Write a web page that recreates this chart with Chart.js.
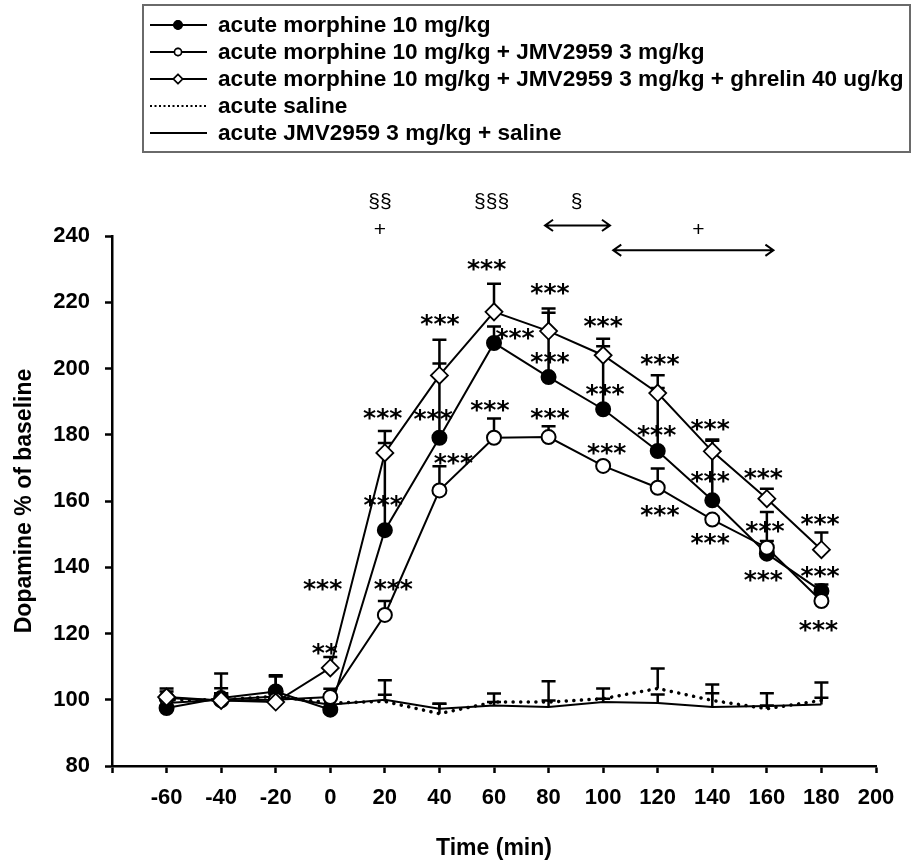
<!DOCTYPE html>
<html>
<head>
<meta charset="utf-8">
<script src="https://cdn.jsdelivr.net/npm/chart.js@4.4.1/dist/chart.umd.min.js"></script>
<style>
  html, body { margin: 0; padding: 0; background: #fff; }
</style>
</head>
<body>
<canvas id="dopamineChart" width="912" height="863"></canvas>
<script>
const FONT = '"Liberation Sans", Arial, Helvetica, sans-serif';

// sampling times (min) and tick values
const times = [-60, -40, -20, 0, 20, 40, 60, 80, 100, 120, 140, 160, 180];
const xTicks = [-80, -60, -40, -20, 0, 20, 40, 60, 80, 100, 120, 140, 160, 180, 200];
const yTicks = [80, 100, 120, 140, 160, 180, 200, 220, 240];

// mean dopamine (% of baseline) and SEM per group
const morphine = [97.5, 100.5, 102.5, 97.0, 151.2, 179.1, 207.7, 197.4, 187.7, 175.1, 160.2, 144.1, 132.8];
const morphineSem = [3.0, 3.0, 4.5, 4.5, 26.3, 22.4, 5.0, 20.7, 19.0, 19.0, 18.0, 12.6, 2.0];

const morphineJmv = [100.5, 99.8, 100.0, 100.8, 125.6, 163.2, 179.1, 179.3, 170.6, 164.0, 154.4, 145.9, 129.8];
const morphineJmvSem = [2.0, 2.0, 3.0, 2.5, 4.2, 7.3, 5.8, 3.3, 1.0, 5.8, 1.0, 2.0, 1.0];

const morphineJmvGhrelin = [100.8, 99.8, 99.3, 109.6, 174.5, 197.9, 217.1, 211.3, 204.0, 192.6, 175.0, 160.7, 145.3];
const morphineJmvGhrelinSem = [2.6, 8.1, 8.1, 3.3, 6.6, 10.8, 8.5, 5.5, 5.0, 5.4, 3.6, 3.0, 5.2];

const saline = [100.0, 100.0, 101.0, 99.0, 99.5, 95.8, 99.3, 99.3, 100.3, 103.4, 99.8, 97.3, 99.8];
const salineSem = [1.0, 2.0, 2.0, 2.0, 2.0, 3.0, 2.6, 6.3, 3.1, 6.0, 4.8, 1.0, 5.4];

const jmvSaline = [99.0, 100.0, 101.0, 98.5, 100.0, 97.3, 98.3, 97.8, 99.3, 99.0, 97.8, 98.1, 98.6];
const jmvSalineSem = [2.0, 2.0, 2.0, 2.0, 5.9, 1.5, 1.0, 2.0, 1.0, 2.6, 4.2, 3.9, 2.0];

// significance marks: [time, % baseline, text]
const starLabels = [
  [57.3, 231.9, '***'], [40.2, 215.4, '***'], [19.2, 186.9, '***'], [37.7, 186.6, '***'],
  [58.5, 189.4, '***'], [45.1, 173.3, '***'], [19.4, 160.7, '***'], [-2.8, 135.2, '***'],
  [23.1, 135.2, '***'], [-2.0, 115.9, '**'], [80.5, 224.6, '***'], [67.7, 211.0, '***'],
  [80.5, 204.0, '***'], [100.0, 214.6, '***'], [80.5, 186.9, '***'], [100.7, 194.2, '***'],
  [120.8, 203.3, '***'], [101.3, 176.5, '***'], [119.6, 181.9, '***'], [139.2, 183.6, '***'],
  [120.8, 157.7, '***'], [139.2, 168.0, '***'], [158.7, 168.8, '***'], [139.2, 149.3, '***'],
  [159.3, 152.7, '***'], [158.7, 138.1, '***'], [179.5, 154.9, '***'], [179.5, 139.1, '***'],
  [178.9, 122.8, '***']
];
const groupLabels = [
  [18.2, 250.3, '§§'], [18.2, 241.7, '+'], [59.1, 250.3, '§§§'], [90.3, 250.3, '§'], [134.9, 241.7, '+']
];
// double arrows: [from time, to time, % baseline]
const rangeArrows = [[78.7, 102.5, 243.2], [103.7, 162.4, 235.7]];

const toPoints = values => values.map((v, i) => ({ x: times[i], y: v }));

// "order": lower numbers are painted on top
const datasets = [
  {
    label: 'acute morphine 10 mg/kg',
    data: toPoints(morphine), sem: morphineSem, order: 3,
    borderColor: '#000', borderWidth: 2,
    pointStyle: 'circle', pointRadius: 7, pointBackgroundColor: '#000', pointBorderColor: '#000', pointBorderWidth: 2,
    legendRadius: 4
  },
  {
    label: 'acute morphine 10 mg/kg + JMV2959 3 mg/kg',
    data: toPoints(morphineJmv), sem: morphineJmvSem, order: 2,
    borderColor: '#000', borderWidth: 2,
    pointStyle: 'circle', pointRadius: 7, pointBackgroundColor: '#fff', pointBorderColor: '#000', pointBorderWidth: 2,
    legendRadius: 3.5
  },
  {
    label: 'acute morphine 10 mg/kg + JMV2959 3 mg/kg + ghrelin 40 ug/kg',
    data: toPoints(morphineJmvGhrelin), sem: morphineJmvGhrelinSem, order: 1,
    borderColor: '#000', borderWidth: 2,
    pointStyle: 'rectRot', pointRadius: 8.5, pointBackgroundColor: '#fff', pointBorderColor: '#000', pointBorderWidth: 1.8,
    legendRadius: 4.5
  },
  {
    label: 'acute saline',
    data: toPoints(saline), sem: salineSem, order: 4,
    borderColor: '#000', borderWidth: 3.5, borderDash: [0.1, 7.5], borderCapStyle: 'round',
    pointRadius: 0, legendDash: [2, 2.5]
  },
  {
    label: 'acute JMV2959 3 mg/kg + saline',
    data: toPoints(jmvSaline), sem: jmvSalineSem, order: 5,
    borderColor: '#000', borderWidth: 2, pointRadius: 0
  }
];

// upward SEM whiskers, drawn under the markers
const errorBars = {
  id: 'errorBars',
  beforeDatasetsDraw(chart) {
    const { ctx, scales: { y } } = chart;
    ctx.save();
    ctx.strokeStyle = '#000';
    ctx.lineWidth = 2.5;
    chart.data.datasets.forEach((ds, i) => {
      chart.getDatasetMeta(i).data.forEach((pt, j) => {
        const top = y.getPixelForValue(ds.data[j].y + ds.sem[j]);
        ctx.beginPath();
        ctx.moveTo(pt.x, pt.y);
        ctx.lineTo(pt.x, top);
        ctx.moveTo(pt.x - 7, top);
        ctx.lineTo(pt.x + 7, top);
        ctx.stroke();
      });
    });
    ctx.restore();
  }
};

function drawArrow(ctx, x1, x2, y) {
  const h = 8;
  ctx.beginPath();
  ctx.moveTo(x1, y); ctx.lineTo(x2, y);
  ctx.moveTo(x1 + h, y - h * 0.7); ctx.lineTo(x1, y); ctx.lineTo(x1 + h, y + h * 0.7);
  ctx.moveTo(x2 - h, y - h * 0.7); ctx.lineTo(x2, y); ctx.lineTo(x2 - h, y + h * 0.7);
  ctx.stroke();
}

function drawLegend(chart) {
  const ctx = chart.ctx;
  ctx.save();
  ctx.strokeStyle = '#6a6a6a';
  ctx.lineWidth = 2;
  ctx.strokeRect(143, 5, 767, 147);
  ctx.font = 'bold 22.6px ' + FONT;
  ctx.textBaseline = 'middle';
  ctx.fillStyle = '#000';
  chart.data.datasets.forEach((ds, i) => {
    const y = 25 + i * 27;
    ctx.strokeStyle = '#000';
    ctx.lineWidth = ds.legendDash ? 2 : 1.8;
    ctx.setLineDash(ds.legendDash || []);
    ctx.beginPath();
    ctx.moveTo(150, y);
    ctx.lineTo(207, y);
    ctx.stroke();
    ctx.setLineDash([]);
    if (ds.pointRadius) {
      Chart.helpers.drawPoint(ctx, {
        pointStyle: ds.pointStyle, radius: ds.legendRadius, borderWidth: 1.5, rotation: 0
      }, 178, y);
      ctx.fillStyle = ds.pointBackgroundColor;
      ctx.fill();
      ctx.lineWidth = 1.5;
      ctx.stroke();
    }
    ctx.fillStyle = '#000';
    ctx.fillText(ds.label, 218, y + 1);
  });
  ctx.restore();
}

const annotations = {
  id: 'annotations',
  afterDraw(chart) {
    const { ctx, scales: { x, y } } = chart;
    ctx.save();
    ctx.fillStyle = '#000';
    ctx.textAlign = 'center';
    ctx.textBaseline = 'alphabetic';
    const starSize = 25;
    ctx.font = 'bold ' + starSize + 'px "DejaVu Sans", sans-serif';
    starLabels.forEach(([t, v, txt]) => {
      ctx.fillText(txt, x.getPixelForValue(t), y.getPixelForValue(v) + starSize * 0.57);
    });
    ctx.font = '21px ' + FONT;
    ctx.textBaseline = 'middle';
    groupLabels.forEach(([t, v, txt]) => {
      ctx.fillText(txt, x.getPixelForValue(t), y.getPixelForValue(v));
    });
    ctx.strokeStyle = '#000';
    ctx.lineWidth = 2;
    rangeArrows.forEach(([t1, t2, v]) => {
      drawArrow(ctx, x.getPixelForValue(t1), x.getPixelForValue(t2), y.getPixelForValue(v));
    });
    ctx.restore();
    drawLegend(chart);
  }
};

new Chart(document.getElementById('dopamineChart'), {
  type: 'line',
  data: { datasets },
  options: {
    responsive: false,
    devicePixelRatio: 1,
    animation: false,
    events: [],
    layout: { padding: { top: 236, right: 36, bottom: 0, left: 0 } },
    plugins: { legend: { display: false }, tooltip: { enabled: false } },
    scales: {
      x: {
        type: 'linear',
        min: -80,
        max: 200,
        afterBuildTicks: s => { s.ticks = xTicks.map(v => ({ value: v })); },
        afterFit: s => { s.height = 97; },
        ticks: {
          color: '#000',
          font: { family: FONT, size: 22, weight: 'bold' },
          padding: 12,
          maxRotation: 0,
          callback: v => (v === -80 ? '' : v)
        },
        grid: { drawOnChartArea: false, drawTicks: true, tickLength: 7, tickColor: '#000', tickWidth: 2.5 },
        border: { color: '#000', width: 2.5 },
        title: {
          display: true,
          text: 'Time (min)',
          color: '#000',
          font: { family: FONT, size: 23, weight: 'bold' },
          padding: { top: 0, bottom: 1 }
        }
      },
      y: {
        min: 80,
        max: 240,
        afterBuildTicks: s => { s.ticks = yTicks.map(v => ({ value: v })); },
        afterFit: s => { s.width = 112; },
        ticks: {
          color: '#000',
          font: { family: FONT, size: 22, weight: 'bold' },
          padding: 15
        },
        grid: { drawOnChartArea: false, drawTicks: true, tickLength: 7, tickColor: '#000', tickWidth: 2.5 },
        border: { color: '#000', width: 2.5 },
        title: {
          display: true,
          text: 'Dopamine % of baseline',
          color: '#000',
          font: { family: FONT, size: 23, weight: 'bold' },
          padding: { top: 11, bottom: 0 }
        }
      }
    }
  },
  plugins: [errorBars, annotations]
});
</script>
</body>
</html>
